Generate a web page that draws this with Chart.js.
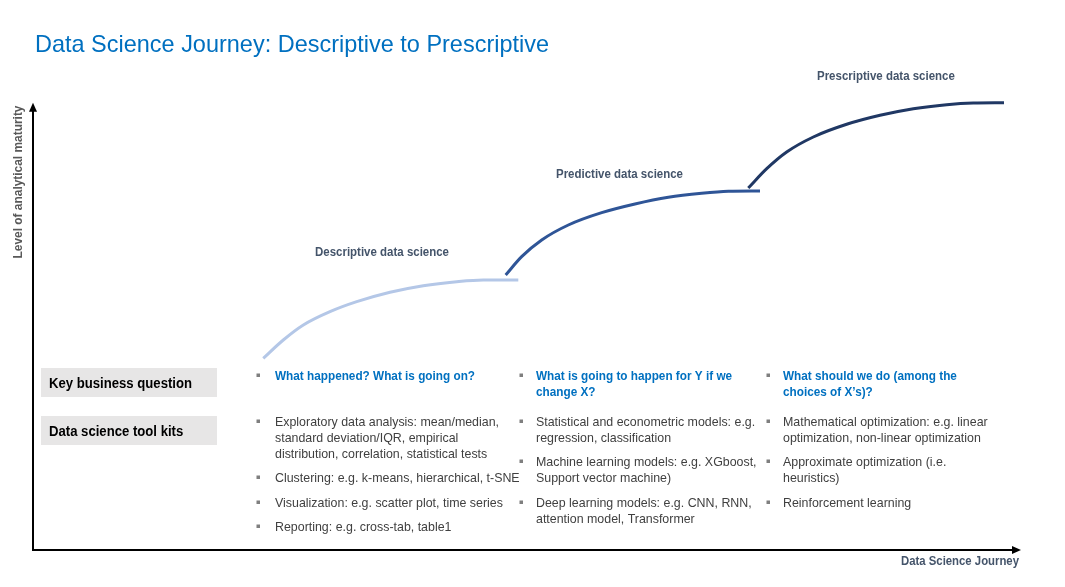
<!DOCTYPE html>
<html>
<head>
<meta charset="utf-8">
<title>Data Science Journey</title>
<script src="https://cdn.jsdelivr.net/npm/chart.js@4.4.1/dist/chart.umd.min.js"></script>
<style>
  html, body { margin: 0; padding: 0; background: #fff; }
  #wrap { width: 1065px; height: 587px; }
</style>
</head>
<body>
<div id="wrap"><canvas id="journeyChart" width="1065" height="587"></canvas></div>
<script>
// journey position (0-100) vs level of analytical maturity (0-100)
const descriptiveX = [23.33, 25.36, 27.39, 30.09, 32.80, 36.17, 39.54, 42.93, 45.62, 49.17];
const descriptiveY = [42.6, 46.67, 50.0, 52.96, 55.18, 57.27, 58.73, 59.62, 60.0, 60.0];
const predictiveX = [47.89, 49.51, 51.54, 54.24, 57.62, 60.99, 64.37, 67.75, 70.45, 73.66];
const predictiveY = [61.11, 65.18, 68.89, 72.22, 74.96, 76.89, 78.38, 79.27, 79.71, 79.78];
const prescriptiveX = [72.47, 74.34, 76.36, 79.06, 82.44, 85.82, 89.19, 92.57, 95.27, 98.38];
const prescriptiveY = [80.44, 84.73, 88.44, 91.78, 94.6, 96.6, 98.07, 98.96, 99.33, 99.4];

const chartTitle = "Data Science Journey: Descriptive to Prescriptive";
const stageLabels = ["Descriptive data science", "Predictive data science", "Prescriptive data science"];
const rowHeaders = ["Key business question", "Data science tool kits"];
const xAxisLabel = "Data Science Journey";
const yAxisLabel = "Level of analytical maturity";

const questions = [
  ["What happened? What is going on?"],
  ["What is going to happen for Y if we", "change X?"],
  ["What should we do (among the", "choices of X\u2019s)?"]
];

const toolkits = [
  [
    ["Exploratory data analysis: mean/median,", "standard deviation/IQR, empirical", "distribution, correlation, statistical tests"],
    ["Clustering: e.g. k-means, hierarchical, t-SNE"],
    ["Visualization: e.g. scatter plot, time series"],
    ["Reporting: e.g. cross-tab, table1"]
  ],
  [
    ["Statistical and econometric models: e.g.", "regression, classification"],
    ["Machine learning models: e.g. XGboost,", "Support vector machine)"],
    ["Deep learning models: e.g. CNN, RNN,", "attention model, Transformer"]
  ],
  [
    ["Mathematical optimization: e.g. linear", "optimization, non-linear optimization"],
    ["Approximate optimization (i.e.", "heuristics)"],
    ["Reinforcement learning"]
  ]
];

const toPoints = (xs, ys) => xs.map((x, i) => ({ x: x, y: ys[i] }));

const FONT = "'Liberation Sans', Arial, sans-serif";

function fitScale(ctx, font, sample, width) {
  ctx.save();
  ctx.font = font;
  const w = ctx.measureText(sample).width;
  ctx.restore();
  return width / w;
}

function drawText(ctx, text, x, y, font, color, sx, align) {
  ctx.save();
  ctx.font = font;
  ctx.fillStyle = color;
  ctx.textBaseline = "middle";
  ctx.textAlign = align || "left";
  ctx.translate(x, y);
  ctx.scale(sx, 1);
  ctx.fillText(text, 0, 0);
  ctx.restore();
}

const decorPlugin = {
  id: "decor",
  afterDraw(chart) {
    const ctx = chart.ctx;
    const xs = chart.scales.x;
    const ys = chart.scales.y;

    // axes with arrow heads
    const x0 = xs.getPixelForValue(0);
    const y0 = ys.getPixelForValue(0);
    const yTop = ys.getPixelForValue(99.4);
    const xEnd = xs.getPixelForValue(100);
    ctx.save();
    ctx.strokeStyle = "#000";
    ctx.fillStyle = "#000";
    ctx.lineWidth = 2;
    ctx.beginPath();
    ctx.moveTo(x0, y0);
    ctx.lineTo(x0, yTop + 6);
    ctx.moveTo(x0 - 1, y0);
    ctx.lineTo(xEnd - 6, y0);
    ctx.stroke();
    ctx.beginPath();
    ctx.moveTo(x0, yTop);
    ctx.lineTo(x0 - 4, yTop + 9);
    ctx.lineTo(x0 + 4, yTop + 9);
    ctx.closePath();
    ctx.fill();
    ctx.beginPath();
    ctx.moveTo(xEnd + 1, y0);
    ctx.lineTo(xEnd - 8, y0 - 4);
    ctx.lineTo(xEnd - 8, y0 + 4);
    ctx.closePath();
    ctx.fill();
    ctx.restore();

    // title
    const titleFont = "24px " + FONT;
    drawText(ctx, chartTitle, 35, 45, titleFont, "#0070c0", fitScale(ctx, titleFont, chartTitle, 514));

    // stage labels
    const stageFont = "bold 12.5px " + FONT;
    const stageSx = fitScale(ctx, stageFont, stageLabels[0], 134);
    drawText(ctx, stageLabels[0], 315, 253, stageFont, "#44546a", stageSx);
    drawText(ctx, stageLabels[1], 556, 175, stageFont, "#44546a", stageSx);
    drawText(ctx, stageLabels[2], 817, 77, stageFont, "#44546a", stageSx);

    // axis labels
    const axisFont = "bold 12px " + FONT;
    drawText(ctx, xAxisLabel, 1019, 562, axisFont, "#44546a", fitScale(ctx, axisFont, xAxisLabel, 118), "right");
    ctx.save();
    ctx.translate(19, 182);
    ctx.rotate(-Math.PI / 2);
    drawText(ctx, yAxisLabel, 0, 0, axisFont, "#595959", fitScale(ctx, axisFont, yAxisLabel, 153), "center");
    ctx.restore();

    // row header boxes
    const headFont = "bold 14px " + FONT;
    const headSx = fitScale(ctx, headFont, rowHeaders[0], 143);
    const boxTops = [368, 416];
    rowHeaders.forEach((h, i) => {
      ctx.fillStyle = "#e7e6e6";
      ctx.fillRect(41, boxTops[i], 176, 29);
      drawText(ctx, h, 49, boxTops[i] + 16, headFont, "#000", headSx);
    });

    // columns
    const bulletX = [258, 521, 768];
    const textX = [275, 536, 783];
    const lineH = 16;
    const qFont = "bold 13px " + FONT;
    const qSx = fitScale(ctx, qFont, questions[0][0], 200);
    const bodyFont = "13.5px " + FONT;
    const bodySx = fitScale(ctx, bodyFont, toolkits[0][0][0], 224);
    const itemTops = [[422, 478, 503, 527], [422, 462, 503], [422, 462, 503]];

    const bullet = (x, y) => {
      ctx.fillStyle = "#7f7f7f";
      ctx.fillRect(x - 1.5, y - 1.5, 3.5, 3.5);
    };

    questions.forEach((lines, c) => {
      bullet(bulletX[c], 375);
      lines.forEach((t, k) => drawText(ctx, t, textX[c], 376 + k * lineH, qFont, "#0070c0", qSx));
    });

    toolkits.forEach((items, c) => {
      items.forEach((lines, j) => {
        const top = itemTops[c][j];
        bullet(bulletX[c], top - 1);
        lines.forEach((t, k) => drawText(ctx, t, textX[c], top + k * lineH, bodyFont, "#404040", bodySx));
      });
    });
  }
};

const ctx = document.getElementById("journeyChart").getContext("2d");
new Chart(ctx, {
  type: "line",
  data: {
    datasets: [
      { label: stageLabels[0], data: toPoints(descriptiveX, descriptiveY), borderColor: "#b4c7e7" },
      { label: stageLabels[1], data: toPoints(predictiveX, predictiveY), borderColor: "#2f5597" },
      { label: stageLabels[2], data: toPoints(prescriptiveX, prescriptiveY), borderColor: "#203864" }
    ]
  },
  options: {
    responsive: false,
    animation: false,
    layout: { padding: { left: 33, right: 45, top: 100, bottom: 37 } },
    elements: {
      line: { borderWidth: 3, tension: 0.4, cubicInterpolationMode: "monotone", borderCapStyle: "butt", fill: false },
      point: { radius: 0, hoverRadius: 0 }
    },
    scales: {
      x: { type: "linear", min: 0, max: 100, display: false },
      y: { type: "linear", min: 0, max: 100, display: false }
    },
    plugins: {
      legend: { display: false },
      tooltip: { enabled: false }
    }
  },
  plugins: [decorPlugin]
});
</script>
</body>
</html>
